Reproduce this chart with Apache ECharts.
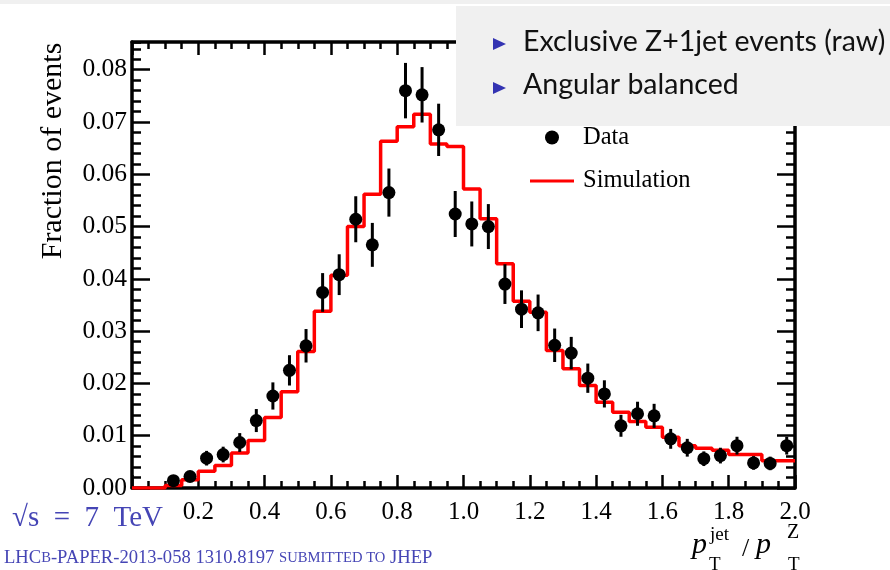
<!DOCTYPE html>
<html>
<head>
<meta charset="utf-8">
<script src="https://cdn.jsdelivr.net/npm/echarts@6/dist/echarts.min.js"></script>
<style>
  html, body { margin: 0; padding: 0; background: #ffffff; }
  #chart { width: 890px; height: 570px; }
</style>
</head>
<body>
<div id="chart"></div>
<script>
// Bin centres of the pT(jet)/pT(Z) histogram (bin width 0.05)
const binCenters = [
  0.025, 0.075, 0.125, 0.175, 0.225, 0.275, 0.325, 0.375, 0.425, 0.475,
  0.525, 0.575, 0.625, 0.675, 0.725, 0.775, 0.825, 0.875, 0.925, 0.975,
  1.025, 1.075, 1.125, 1.175, 1.225, 1.275, 1.325, 1.375, 1.425, 1.475,
  1.525, 1.575, 1.625, 1.675, 1.725, 1.775, 1.825, 1.875, 1.925, 1.975
];
const binWidth = 0.05;

// Data: fraction of events per bin, with statistical uncertainties
const dataValues = [
  null, null, 0.0014, 0.0022, 0.0057, 0.0064, 0.0087, 0.0129, 0.0176, 0.0225,
  0.0272, 0.0374, 0.0408, 0.0514, 0.0465, 0.0565, 0.0760, 0.0752, 0.0685, 0.0524,
  0.0505, 0.0500, 0.0390, 0.0342, 0.0335, 0.0273, 0.0258, 0.0210, 0.0180, 0.0119,
  0.0142, 0.0138, 0.0094, 0.0077, 0.0056, 0.0062, 0.0081, 0.0048, 0.0047, 0.0081
];
const dataErrors = [
  null, null, 0.0007, 0.0009, 0.0014, 0.0015, 0.0018, 0.0022, 0.0026, 0.0029,
  0.0032, 0.0037, 0.0039, 0.0044, 0.0042, 0.0046, 0.0053, 0.0053, 0.0050, 0.0044,
  0.0043, 0.0043, 0.0038, 0.0036, 0.0035, 0.0032, 0.0031, 0.0028, 0.0026, 0.0021,
  0.0023, 0.0023, 0.0019, 0.0017, 0.0014, 0.0015, 0.0017, 0.0013, 0.0013, 0.0017
];

// Simulation: fraction of events per bin
const simValues = [
  0.0000, 0.0000, 0.0005, 0.0016, 0.0032, 0.0043, 0.0067, 0.0091, 0.0135, 0.0184,
  0.0261, 0.0338, 0.0407, 0.0500, 0.0562, 0.0663, 0.0691, 0.0715, 0.0658, 0.0653,
  0.0572, 0.0515, 0.0429, 0.0357, 0.0336, 0.0263, 0.0228, 0.0196, 0.0164, 0.0145,
  0.0127, 0.0116, 0.0097, 0.0081, 0.0076, 0.0072, 0.0064, 0.0064, 0.0052, 0.0052
];

// Axis ranges and tick steps
const xRange = [0, 2.0];
const yRange = [0, 0.0853];
const xMajorStep = 0.2;
const yMajorStep = 0.01;
const yMinorStep = 0.002;

const seriesNames = ['Data', 'Simulation'];
const headerLines = ['Exclusive Z+1jet events (raw)', 'Angular balanced'];

const SERIF = '"Liberation Serif", "Times New Roman", serif';
const SANS = 'Lato, "Noto Sans", sans-serif';
const BLUE = '#4545b5';

// Points for the data markers
const dataPoints = [];
const errorBars = [];
binCenters.forEach(function (c, i) {
  if (dataValues[i] !== null) {
    dataPoints.push([c, dataValues[i]]);
    errorBars.push([c, dataValues[i] - dataErrors[i], dataValues[i] + dataErrors[i]]);
  }
});

// Step outline of the simulated histogram: each bin's low edge, then the final high edge
const simSteps = binCenters.map(function (c, i) { return [c - binWidth / 2, simValues[i]]; });
simSteps.push([binCenters[binCenters.length - 1] + binWidth / 2, simValues[simValues.length - 1]]);

const tickLine = { color: '#000', width: 2.5 };
const frameLine = { color: '#000', width: 3.5 };

function xAxisDef(position, showLabels) {
  return {
    type: 'value', position: position, min: xRange[0], max: xRange[1], interval: xMajorStep,
    axisLine: { show: true, onZero: false, lineStyle: frameLine },
    axisTick: { show: true, inside: true, length: 13, lineStyle: tickLine },
    minorTick: { show: true, splitNumber: 4, length: 7, lineStyle: tickLine },
    splitLine: { show: false },
    axisLabel: {
      show: showLabels, margin: 12, color: '#000', fontFamily: SERIF, fontSize: 25,
      formatter: function (v) { return v === 0 ? '' : v.toFixed(1); }
    }
  };
}

function yAxisDef(position, step, tickLen, showLine, showLabels) {
  return {
    type: 'value', position: position, min: yRange[0], max: yRange[1], interval: step,
    axisLine: { show: showLine, onZero: false, lineStyle: frameLine },
    axisTick: { show: true, inside: true, length: tickLen, lineStyle: tickLine },
    splitLine: { show: false },
    axisLabel: {
      show: showLabels, margin: 5, color: '#000', fontFamily: SERIF, fontSize: 25.5,
      showMaxLabel: false,
      formatter: function (v) {
        const k = Math.round(v / yMajorStep);
        return Math.abs(v - k * yMajorStep) < 1e-9 ? v.toFixed(2) : '';
      }
    }
  };
}

const chart = echarts.init(document.getElementById('chart'), null, { renderer: 'canvas' });

chart.setOption({
  animation: false,
  backgroundColor: '#ffffff',
  grid: { left: 132, top: 42, width: 663, height: 446, containLabel: false },
  xAxis: [xAxisDef('bottom', true), xAxisDef('top', false)],
  yAxis: [
    yAxisDef('left', yMajorStep, 18, true, true),
    yAxisDef('left', yMinorStep, 9, false, false),
    yAxisDef('right', yMajorStep, 18, true, false),
    yAxisDef('right', yMinorStep, 9, false, false)
  ],
  legend: {
    left: 525, top: 120, orient: 'vertical',
    itemWidth: 44, itemHeight: 14, itemGap: 18.5,
    textStyle: { fontFamily: SERIF, fontSize: 24.5, color: '#000', padding: [0, 0, 0, 4] },
    data: [
      { name: seriesNames[0], icon: 'circle' },
      { name: seriesNames[1], icon: 'path://M0,0 H44 V3 H0 Z' }
    ]
  },
  series: [
    {
      name: seriesNames[1], type: 'line', step: 'end', data: simSteps,
      xAxisIndex: 0, yAxisIndex: 0, symbol: 'none', showSymbol: false, z: 2,
      lineStyle: { color: '#ff0000', width: 3.5 }, itemStyle: { color: '#ff0000' }
    },
    {
      name: seriesNames[0], type: 'custom', data: errorBars,
      xAxisIndex: 0, yAxisIndex: 0, z: 3,
      renderItem: function (params, api) {
        const lo = api.coord([api.value(0), api.value(1)]);
        const hi = api.coord([api.value(0), api.value(2)]);
        return {
          type: 'line',
          shape: { x1: lo[0], y1: lo[1], x2: hi[0], y2: hi[1] },
          style: { stroke: '#000', lineWidth: 3 }
        };
      },
      itemStyle: { color: '#000' }
    },
    {
      name: seriesNames[0], type: 'scatter', data: dataPoints,
      xAxisIndex: 0, yAxisIndex: 0, z: 4,
      symbol: 'circle', symbolSize: 13, itemStyle: { color: '#000', opacity: 1 }
    }
  ],
  graphic: [
    // thin grey strip at the very top and the header box
    { type: 'rect', z: 100, shape: { x: 0, y: 0, width: 890, height: 4 }, style: { fill: '#f0f0f0' } },
    { type: 'rect', z: 100, shape: { x: 456, y: 6, width: 434, height: 120 }, style: { fill: '#f0f0f0' } },
    { type: 'polygon', z: 101, shape: { points: [[493, 38], [493, 50], [506, 44]] }, style: { fill: '#3333b2' } },
    { type: 'polygon', z: 101, shape: { points: [[493, 82], [493, 94], [506, 88]] }, style: { fill: '#3333b2' } },
    { type: 'text', z: 101, x: 523, y: 42, style: { text: headerLines[0], font: '28.5px ' + SANS, fill: '#111', textVerticalAlign: 'middle' } },
    { type: 'text', z: 101, x: 523, y: 85, style: { text: headerLines[1], font: '28.5px ' + SANS, fill: '#111', textVerticalAlign: 'middle' } },

    // y-axis title
    { type: 'text', z: 50, x: 53, y: 151, rotation: Math.PI / 2,
      style: { text: 'Fraction of events', font: '30px ' + SERIF, fill: '#000', textAlign: 'center', textVerticalAlign: 'middle' } },

    // x-axis title: p_T^jet / p_T^Z
    { type: 'text', z: 50, x: 692, y: 545, style: { text: 'p', font: 'italic 30px ' + SERIF, fill: '#000', textVerticalAlign: 'middle' } },
    { type: 'text', z: 50, x: 710, y: 535, style: { text: 'jet', font: '19px ' + SERIF, fill: '#000', textVerticalAlign: 'middle' } },
    { type: 'text', z: 50, x: 709, y: 565, style: { text: 'T', font: '19px ' + SERIF, fill: '#000', textVerticalAlign: 'middle' } },
    { type: 'text', z: 50, x: 742, y: 549, style: { text: '/', font: '26px ' + SERIF, fill: '#000', textVerticalAlign: 'middle' } },
    { type: 'text', z: 50, x: 756, y: 545, style: { text: 'p', font: 'italic 30px ' + SERIF, fill: '#000', textVerticalAlign: 'middle' } },
    { type: 'text', z: 50, x: 787, y: 533, style: { text: 'Z', font: '20px ' + SERIF, fill: '#000', textVerticalAlign: 'middle' } },
    { type: 'text', z: 50, x: 788, y: 565, style: { text: 'T', font: '19px ' + SERIF, fill: '#000', textVerticalAlign: 'middle' } },

    // energy and reference labels
    { type: 'text', z: 50, x: 12, y: 518, style: { text: '\u221As\u2002=\u20027\u2002TeV', font: '29px ' + SERIF, fill: BLUE, textVerticalAlign: 'middle' } },
    { type: 'text', z: 50, x: 4, y: 558, style: {
        text: '{a|LHC}{b|B}{a|-PAPER-2013-058 1310.8197 }{b|SUBMITTED TO}{a| JHEP}',
        textVerticalAlign: 'middle', fill: BLUE,
        rich: {
          a: { fontFamily: SERIF, fontSize: 18.6, fill: BLUE, color: BLUE },
          b: { fontFamily: SERIF, fontSize: 14.6, fill: BLUE, color: BLUE }
        }
      } }
  ]
});
</script>
</body>
</html>
